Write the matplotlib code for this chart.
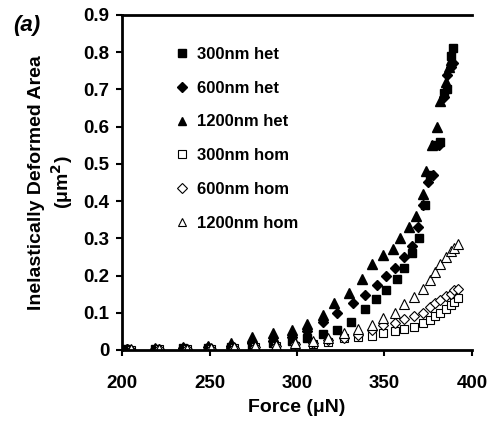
import matplotlib.pyplot as plt

plt.rcParams["font.family"] = ["Liberation Sans", "DejaVu Sans"]
plt.rcParams["font.weight"] = "bold"

# datos
f_300_het = [203, 219, 235, 249, 262, 274, 286, 297, 306, 315, 323, 331, 339, 345,
             351, 357, 361, 366, 370, 373, 376, 379, 382, 384, 386, 388, 389]
a_300_het = [0.003, 0.004, 0.005, 0.006, 0.008, 0.012, 0.018, 0.025, 0.033, 0.042,
             0.054, 0.075, 0.11, 0.137, 0.16, 0.19, 0.22, 0.26, 0.30, 0.39, 0.47,
             0.55, 0.56, 0.69, 0.70, 0.79, 0.81]

f_600_het = [203, 219, 235, 249, 262, 274, 286, 297, 306, 315, 323, 332, 339, 346,
             351, 356, 361, 366, 369, 372, 375, 378, 381, 384, 386, 388, 389]
a_600_het = [0.003, 0.004, 0.006, 0.008, 0.012, 0.018, 0.025, 0.035, 0.05, 0.075,
             0.10, 0.125, 0.148, 0.175, 0.20, 0.22, 0.25, 0.28, 0.33, 0.39, 0.45,
             0.47, 0.55, 0.68, 0.74, 0.76, 0.77]

f_1200_het = [203, 219, 235, 249, 262, 274, 286, 297, 306, 315, 321, 330, 337, 343,
              349, 355, 359, 364, 368, 372, 374, 377, 380, 382, 385, 387, 388]
a_1200_het = [0.004, 0.006, 0.008, 0.012, 0.02, 0.035, 0.045, 0.055, 0.07, 0.095,
              0.126, 0.153, 0.19, 0.23, 0.255, 0.27, 0.30, 0.33, 0.36, 0.42, 0.48,
              0.55, 0.60, 0.67, 0.72, 0.76, 0.78]

f_hom = [205, 221, 237, 251, 264, 276, 288, 299, 309, 318, 327, 335, 343, 349,
         356, 361, 367, 372, 376, 379, 382, 385, 388, 390, 392]
a_300_hom = [0.001, 0.002, 0.003, 0.004, 0.006, 0.008, 0.01, 0.012, 0.016, 0.022,
             0.032, 0.035, 0.038, 0.045, 0.05, 0.056, 0.062, 0.072, 0.08, 0.09,
             0.10, 0.11, 0.12, 0.13, 0.14]
a_600_hom = [0.001, 0.002, 0.003, 0.004, 0.006, 0.008, 0.011, 0.015, 0.02, 0.026,
             0.032, 0.04, 0.054, 0.067, 0.073, 0.083, 0.09, 0.10, 0.115, 0.125,
             0.135, 0.145, 0.15, 0.16, 0.165]
a_1200_hom = [0.002, 0.003, 0.004, 0.005, 0.007, 0.01, 0.013, 0.018, 0.025, 0.032,
              0.045, 0.056, 0.067, 0.086, 0.10, 0.124, 0.142, 0.164, 0.188, 0.21,
              0.23, 0.25, 0.265, 0.275, 0.285]

fig = plt.figure(figsize=(4.95, 4.23), dpi=100)
ax = fig.add_axes([0.2465, 0.1726, 0.707, 0.792])

ms = 6
ax.plot(f_300_het, a_300_het, "s", color="black", ms=ms, label="300nm het")
ax.plot(f_600_het, a_600_het, "D", color="black", ms=ms - 0.5, label="600nm het")
ax.plot(f_1200_het, a_1200_het, "^", color="black", ms=ms + 1, label="1200nm het")
ax.plot(f_hom, a_300_hom, "s", mfc="white", mec="black", mew=0.8, ms=ms, label="300nm hom")
ax.plot(f_hom, a_600_hom, "D", mfc="white", mec="black", mew=0.8, ms=ms - 0.5, label="600nm hom")
ax.plot(f_hom, a_1200_hom, "^", mfc="white", mec="black", mew=0.8, ms=ms + 1, label="1200nm hom")

ax.set_xlim(200, 400)
ax.set_ylim(0, 0.9)
ax.set_xticks([200, 250, 300, 350, 400])
ax.set_yticks([0, 0.1, 0.2, 0.3, 0.4, 0.5, 0.6, 0.7, 0.8, 0.9])
ax.set_yticklabels(["0", "0.1", "0.2", "0.3", "0.4", "0.5", "0.6", "0.7", "0.8", "0.9"])
ax.tick_params(direction="out", length=4, width=1.5, labelsize=13.5)
ax.tick_params(axis="x", pad=14)
ax.tick_params(axis="y", pad=5)

for s in ["left", "bottom", "top"]:
    ax.spines[s].set_linewidth(2)
ax.spines["right"].set_visible(False)

ax.set_xlabel("Force (μN)", fontsize=14, fontweight="bold", labelpad=5)
ax.set_ylabel("Inelastically Deformed Area\n(μm$^\\mathbf{2}$)", fontsize=14,
              fontweight="bold", labelpad=6)

leg = ax.legend(loc="upper left", bbox_to_anchor=(0.115, 0.95), frameon=False,
                fontsize=12, markerscale=0.85, handlelength=0.6, handletextpad=0.6,
                labelspacing=1.13, borderpad=0.4)

fig.text(0.026, 0.965, "(a)", fontsize=16, fontweight="bold", style="italic", va="top")

fig.savefig("out.png", dpi=100)
